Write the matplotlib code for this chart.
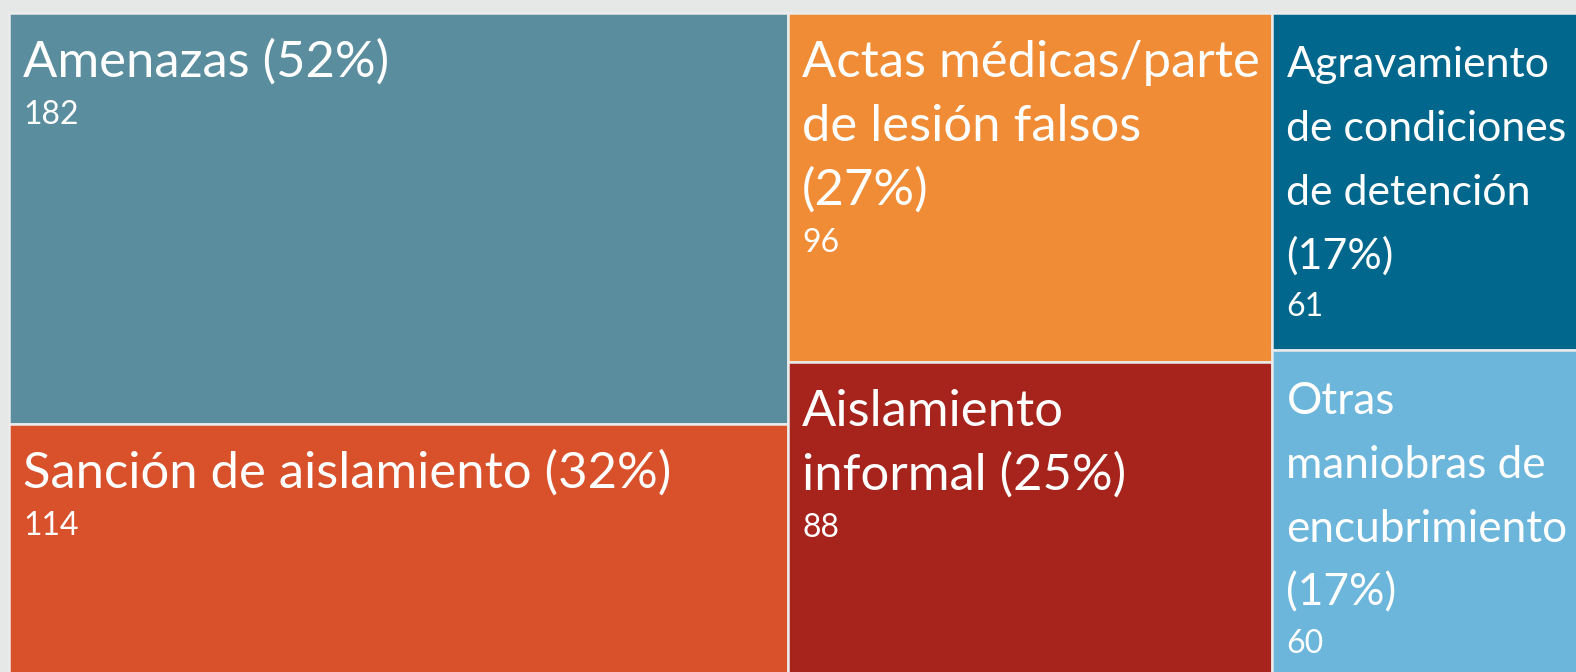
import matplotlib.pyplot as plt
from matplotlib.patches import Rectangle

# categories (label lines as wrapped in the reference), counts, colours
labels = [
    ["Amenazas (52%)"],
    ["Sanción de aislamiento (32%)"],
    ["Actas médicas/parte", "de lesión falsos", "(27%)"],
    ["Aislamiento", "informal (25%)"],
    ["Agravamiento", "de condiciones", "de detención", "(17%)"],
    ["Otras", "maniobras de", "encubrimiento", "(17%)"],
]
counts = [182, 114, 96, 88, 61, 60]
colors = ["#5a8d9d", "#d9512a", "#f18c36", "#a6241c", "#02678c", "#6db6db"]
columns = [[0, 1], [2, 3], [4, 5]]

W, H = 1576, 672
x0, y0 = 9, 13  # treemap origin in pixels; the map runs a little past the frame
tw, th = 1582, 668

fig = plt.figure(figsize=(W / 100, H / 100), dpi=100, facecolor="#e6e8e7")
ax = fig.add_axes([0, 0, 1, 1])
ax.set_xlim(0, W)
ax.set_ylim(H, 0)
ax.axis("off")

plt.rcParams["font.family"] = ["Lato", "DejaVu Sans"]
renderer = fig.canvas.get_renderer()

total = sum(counts)
x = x0
for col in columns:
    csum = sum(counts[i] for i in col)
    cw = tw * csum / total
    y = y0
    for i in col:
        ch = th * counts[i] / csum
        ax.add_patch(Rectangle((x, y), cw, ch, facecolor=colors[i],
                               edgecolor="#ebebeb", lw=1.8))
        # label lines, then the count
        bl = y + 64
        texts = []
        for line in labels[i]:
            texts.append(ax.text(x + 14, bl, line, color="white", fontsize=36.5,
                                 va="baseline", ha="left"))
            bl += 64
        # Lato runs wider than the original face: shrink lines that overflow
        room = min(x + cw, W) - (x + 14) - 8
        widest = max(t.get_window_extent(renderer).width for t in texts)
        if widest > room:
            for t in texts:
                t.set_fontsize(36.5 * room / widest)
        ax.text(x + 14, bl - 64 + 47, str(counts[i]), color="white",
                fontsize=23, va="baseline", ha="left")
        y += ch
    x += cw

plt.savefig("out.png", dpi=100, facecolor=fig.get_facecolor())
